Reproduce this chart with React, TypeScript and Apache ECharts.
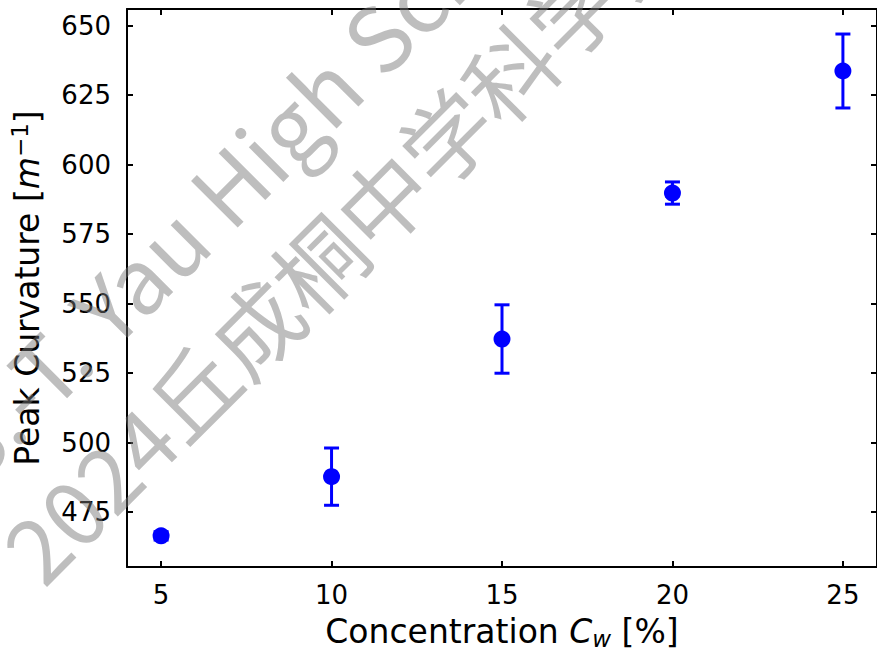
import React, { useEffect, useRef } from "react";
import * as echarts from "echarts";

const concentrations = [5, 10, 15, 20, 25];
const peakCurvature = [466.5, 487.8, 537.3, 589.8, 633.7];
const errors = [1.5, 10.3, 12.3, 4.0, 13.3];
const xTicks = [5, 10, 15, 20, 25];
const yTicks = [475, 500, 525, 550, 575, 600, 625, 650];

const FONT = "DejaVu Sans";
const BLUE = "#0000ff";

export default function App() {
  const ref = useRef<HTMLDivElement>(null);
  useEffect(() => {
    if (!ref.current) return;
    const chart = echarts.init(ref.current, null, { renderer: "svg" });
    const axisCommon = {
      type: "value" as const,
      axisLine: { show: true, onZero: false, lineStyle: { color: "#000", width: 2 } },
      axisTick: { show: true, inside: true, length: 6, lineStyle: { color: "#000", width: 2 } },
      splitLine: { show: false },
    };
    const wmStyle = (text: string, align: string) => ({
      text,
      fontSize: 90,
      fontFamily: "Noto Sans CJK SC",
      fill: "rgba(120,120,120,0.48)",
      align,
      verticalAlign: "middle",
    });
    const rot = Math.PI / 4;
    chart.setOption({
      animation: false,
      backgroundColor: "#fff",
      grid: { left: 124, right: -2, top: 9, bottom: 87 },
      xAxis: [
        {
          ...axisCommon,
          min: 4,
          max: 26,
          position: "bottom",
          axisTick: { ...axisCommon.axisTick, customValues: xTicks },
          axisLabel: { customValues: xTicks, margin: 15, fontSize: 26, fontFamily: FONT, color: "#000" },
          name: "Concentration {i|C}{sub|w} [%]",
          nameLocation: "middle",
          nameGap: 46,
          nameTextStyle: {
            fontSize: 33,
            fontFamily: FONT,
            color: "#000",
            rich: {
              i: { fontSize: 33, fontFamily: FONT, fontStyle: "italic", color: "#000" },
              sub: { fontSize: 23, fontFamily: FONT, fontStyle: "italic", color: "#000", verticalAlign: "bottom", padding: [14, 0, 0, 0] },
            },
          },
        },
        {
          ...axisCommon,
          min: 4,
          max: 26,
          position: "top",
          axisTick: { ...axisCommon.axisTick, customValues: xTicks },
          axisLabel: { show: false },
        },
      ],
      yAxis: [
        {
          ...axisCommon,
          min: 455.3,
          max: 656,
          position: "left",
          axisTick: { ...axisCommon.axisTick, customValues: yTicks },
          axisLabel: { customValues: yTicks, margin: 16, fontSize: 26, fontFamily: FONT, color: "#000" },
          name: "Peak Curvature [{i|m}{sup|−1}]",
          nameLocation: "middle",
          nameRotate: 90,
          nameGap: 80,
          nameTextStyle: {
            fontSize: 33,
            fontFamily: FONT,
            color: "#000",
            rich: {
              i: { fontSize: 33, fontFamily: FONT, fontStyle: "italic", color: "#000" },
              sup: { fontSize: 23, fontFamily: FONT, color: "#000", padding: [0, 0, 16, 0] },
            },
          },
        },
        {
          ...axisCommon,
          min: 455.3,
          max: 656,
          position: "right",
          axisTick: { ...axisCommon.axisTick, customValues: yTicks },
          axisLabel: { show: false },
        },
      ],
      series: [
        {
          type: "custom",
          xAxisIndex: 0,
          yAxisIndex: 0,
          data: concentrations.map((c, i) => [c, peakCurvature[i] - errors[i], peakCurvature[i] + errors[i]]),
          encode: { x: 0, y: [1, 2] },
          renderItem: (params: any, api: any) => {
            const x = api.value(0);
            const lo = api.coord([x, api.value(1)]);
            const hi = api.coord([x, api.value(2)]);
            const hw = 7.5;
            const st = { stroke: BLUE, lineWidth: 3 };
            return {
              type: "group",
              children: [
                { type: "line", shape: { x1: hi[0], y1: hi[1], x2: lo[0], y2: lo[1] }, style: st },
                { type: "line", shape: { x1: hi[0] - hw, y1: hi[1], x2: hi[0] + hw, y2: hi[1] }, style: st },
                { type: "line", shape: { x1: lo[0] - hw, y1: lo[1], x2: lo[0] + hw, y2: lo[1] }, style: st },
              ],
            };
          },
          z: 2,
        },
        {
          type: "scatter",
          xAxisIndex: 0,
          yAxisIndex: 0,
          data: concentrations.map((c, i) => [c, peakCurvature[i]]),
          symbol: "circle",
          symbolSize: 17,
          itemStyle: { color: BLUE, opacity: 1 },
          z: 3,
        },
      ],
      graphic: [
        { type: "text", x: 203.6, y: 206.4, rotation: rot, silent: true, z: 100, style: wmStyle("S.-T. Yau ", "right") },
        { type: "text", x: 203.6, y: 206.4, rotation: rot, silent: true, z: 100, style: wmStyle("High School Science Award", "left") },
        { type: "text", x: 158, y: 421, rotation: rot, silent: true, z: 100, style: wmStyle("2024", "right") },
        { type: "text", x: 158, y: 421, rotation: rot, silent: true, z: 100, style: wmStyle("丘成桐中学科学奖", "left") },
      ],
    });
    return () => chart.dispose();
  }, []);
  return <div ref={ref} style={{ position: "fixed", left: 0, top: 0, width: 877, height: 655 }} />;
}
